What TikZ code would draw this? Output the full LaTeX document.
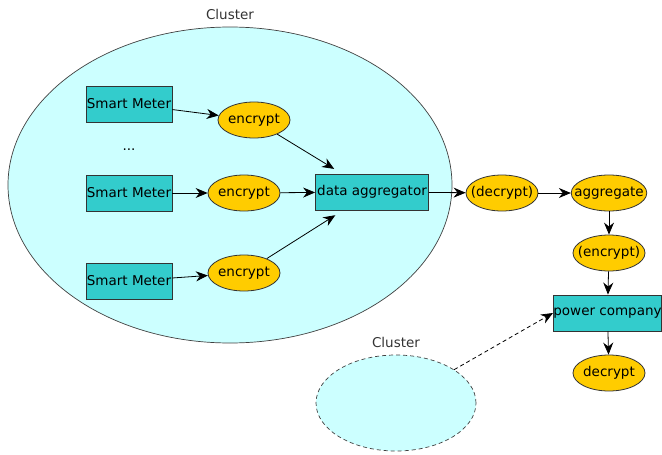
\documentclass[tikz,border=0pt]{standalone}
\usepackage{fontspec}
\setmainfont{DejaVu Sans}
\usetikzlibrary{shapes.geometric,arrows.meta}

\definecolor{clusterfill}{HTML}{CCFFFF}
\definecolor{unitfill}{HTML}{33CCCC}
\definecolor{operfill}{HTML}{FFCC00}

\tikzset{
    cluster/.style = {ellipse, draw=black!75, fill=clusterfill, line width=0.7pt, inner sep=0pt},
    unit/.style = {draw=black!80, fill=unitfill, line width=0.8pt, inner sep=0pt, minimum height=36pt},
    oper/.style = {ellipse, draw=black!80, fill=operfill, line width=0.8pt, inner xsep=-8pt, inner ysep=0pt, minimum width=72pt, minimum height=36pt},
    link/.style = {-{Stealth[length=12pt,width=10pt]}, line width=0.8pt},
    clusterlabel/.style = {text=black!80, label distance=3pt}
}

\begin{document}
\begin{tikzpicture}[x=1pt, y=-1pt, font=\fontsize{13.5}{16}\selectfont]
    \useasboundingbox (0,0) rectangle (662,455);

    % clusters
    \node[cluster, minimum width=444pt, minimum height=316pt,
          label={[clusterlabel]above:Cluster}] (bigcluster) at (230,185) {};
    \node[cluster, dashed, dash pattern=on 4pt off 3pt, minimum width=160pt, minimum height=96pt,
          label={[clusterlabel]above:Cluster}] (smallcluster) at (396,403) {};

    % meters
    \node[unit, minimum width=86pt] (sm1) at (129,104) {Smart Meter};
    \node[unit, minimum width=86pt] (sm2) at (129,193) {Smart Meter};
    \node[unit, minimum width=86pt] (sm3) at (129,281) {Smart Meter};
    \node (dots) at (129,150) {...};

    \node[oper] (enc1) at (254,120) {encrypt};
    \node[oper] (enc2) at (244,193) {encrypt};
    \node[oper] (enc3) at (244,273) {encrypt};

    \node[unit, minimum width=113pt] (agg) at (372,192) {data aggregator};

    % utility side
    \node[oper] (dec1) at (502,193) {(decrypt)};
    \node[oper] (aggr) at (609,193) {aggregate};
    \node[oper] (enc4) at (609,253) {(encrypt)};
    \node[unit, minimum width=108pt] (power) at (607.5,313) {power company};
    \node[oper] (dec2) at (609,373) {decrypt};

    \draw[link] (sm1) -- (enc1);
    \draw[link] (sm2) -- (enc2);
    \draw[link] (sm3) -- (enc3);
    \draw[link, shorten >=9pt] (enc1) -- (agg);
    \draw[link] (enc2) -- (agg);
    \draw[link, shorten >=9pt] (enc3) -- (agg);
    \draw[link] (agg) -- (dec1);
    \draw[link] (dec1) -- (aggr);
    \draw[link] (aggr) -- (enc4);
    \draw[link] (enc4) -- (power);
    \draw[link] (power) -- (dec2);
    \draw[link, dashed, dash pattern=on 4pt off 3pt] (smallcluster) -- (power.west);
\end{tikzpicture}
\end{document}
